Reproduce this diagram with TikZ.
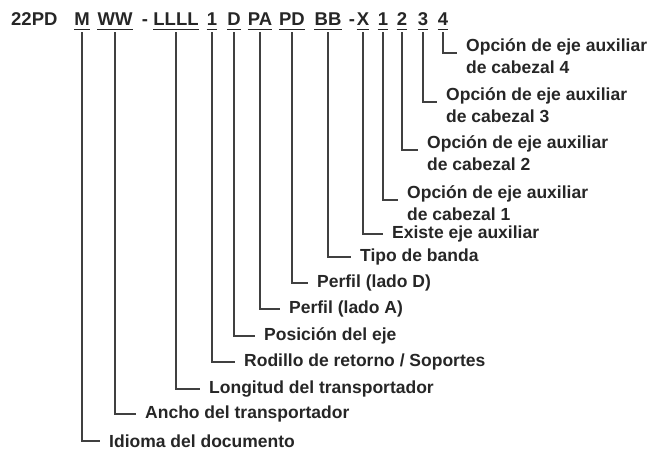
\documentclass[tikz,border=0pt]{standalone}
\usepackage{fontspec}
\setmainfont{Liberation Sans}
\usetikzlibrary{positioning}

\begin{document}
\begin{tikzpicture}[x=1pt, y=-1pt,
        code/.style={inner sep=0pt, anchor=base, text=black!85, font=\bfseries\fontsize{18.5}{20}\selectfont},
        field/.style={code, inner xsep=0pt, inner ysep=4pt},
        uline/.style={draw=black!85, line width=1.4pt},
        desc/.style={anchor=west, align=left, inner xsep=9pt, inner ysep=0pt, text=black!85, font=\bfseries\fontsize{17.5}{22}\selectfont},
        line/.style={draw=black!75, line width=1.3pt}
    ]
        \useasboundingbox (0,0) rectangle (661,453);
        % Code fields
        \node[code, anchor=base west] (prefix) at (11,25) {22PD};
        \node[field] (lang) at (82,25) {M};
        \node[field] (wid) at (115,25) {WW};
        \node[code] (dash1) at (145,25) {-};
        \node[field] (len) at (176,25) {LLLL};
        \node[field] (ret) at (212,25) {1};
        \node[field] (pos) at (234,25) {D};
        \node[field] (pa) at (260,25) {PA};
        \node[field] (pd) at (292,25) {PD};
        \node[field] (belt) at (328,25) {BB};
        \node[code] (dash2) at (352,25) {-};
        \node[field] (aux) at (363,25) {X};
        \node[field] (h1) at (383,25) {1};
        \node[field] (h2) at (402,25) {2};
        \node[field] (h3) at (423,25) {3};
        \node[field] (h4) at (443,25) {4};
        % Underlines
        \path[uline] (lang.south west) -- (lang.south east);
        \path[uline] (wid.south west) -- (wid.south east);
        \path[uline] (len.south west) -- (len.south east);
        \path[uline] (ret.south west) -- (ret.south east);
        \path[uline] (pos.south west) -- (pos.south east);
        \path[uline] (pa.south west) -- (pa.south east);
        \path[uline] (pd.south west) -- (pd.south east);
        \path[uline] (belt.south west) -- (belt.south east);
        \path[uline] (aux.south west) -- (aux.south east);
        \path[uline] (h1.south west) -- (h1.south east);
        \path[uline] (h2.south west) -- (h2.south east);
        \path[uline] (h3.south west) -- (h3.south east);
        \path[uline] (h4.south west) -- (h4.south east);
        % Descriptions
        \node[desc] (h4txt) at (457,56) {Opción de eje auxiliar\\de cabezal 4};
        \node[desc] (h3txt) at (437,105) {Opción de eje auxiliar\\de cabezal 3};
        \node[desc] (h2txt) at (418,153) {Opción de eje auxiliar\\de cabezal 2};
        \node[desc] (h1txt) at (398,203) {Opción de eje auxiliar\\de cabezal 1};
        \node[desc] (auxtxt) at (383,234) {Existe eje auxiliar};
        \node[desc] (belttxt) at (351,257) {Tipo de banda};
        \node[desc] (pdtxt) at (308,283) {Perfil (lado D)};
        \node[desc] (patxt) at (280,309) {Perfil (lado A)};
        \node[desc] (postxt) at (255,336) {Posición del eje};
        \node[desc] (rettxt) at (235,362) {Rodillo de retorno / Soportes};
        \node[desc] (lentxt) at (200,389) {Longitud del transportador};
        \node[desc] (widtxt) at (136,414) {Ancho del transportador};
        \node[desc] (langtxt) at (100,441) {Idioma del documento};
        % Connections
        \path[line] ([yshift=-3pt]h4.south) |- ([yshift=3pt]h4txt.west);
        \path[line] ([yshift=-3pt]h3.south) |- ([yshift=3pt]h3txt.west);
        \path[line] ([yshift=-3pt]h2.south) |- ([yshift=3pt]h2txt.west);
        \path[line] ([yshift=-3pt]h1.south) |- ([yshift=3pt]h1txt.west);
        \path[line] ([yshift=-3pt]aux.south) |- (auxtxt.west);
        \path[line] ([yshift=-3pt]belt.south) |- (belttxt.west);
        \path[line] ([yshift=-3pt]pd.south) |- (pdtxt.west);
        \path[line] ([yshift=-3pt]pa.south) |- (patxt.west);
        \path[line] ([yshift=-3pt]pos.south) |- (postxt.west);
        \path[line] ([yshift=-3pt]ret.south) |- (rettxt.west);
        \path[line] ([yshift=-3pt]len.south) |- (lentxt.west);
        \path[line] ([yshift=-3pt]wid.south) |- (widtxt.west);
        \path[line] ([yshift=-3pt]lang.south) |- (langtxt.west);
    \end{tikzpicture}
\end{document}
